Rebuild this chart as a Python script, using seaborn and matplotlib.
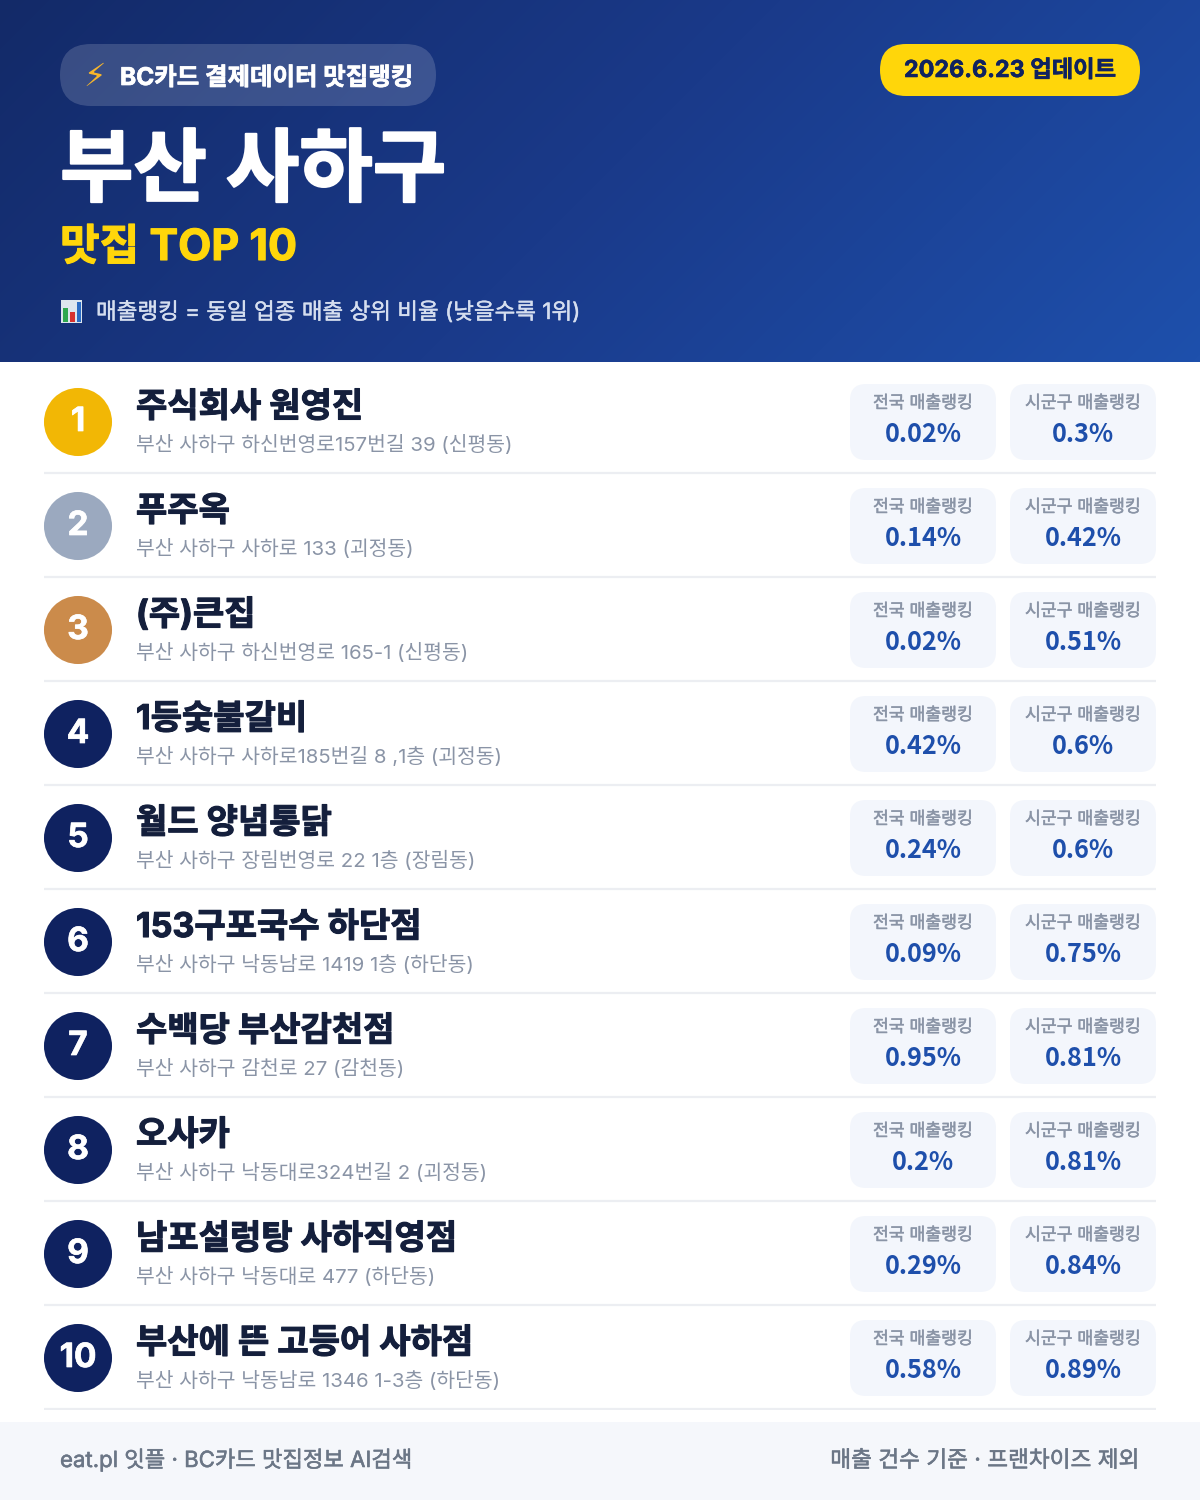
import numpy as np
import pandas as pd
import matplotlib.pyplot as plt
import matplotlib.patheffects as pe
from matplotlib.colors import LinearSegmentedColormap
from matplotlib.patches import FancyBboxPatch, Rectangle
import seaborn as sns

sns.set_theme(style='white')
plt.rcParams['font.family'] = ['Inter', 'Noto Sans CJK KR', 'DejaVu Sans']

# Chart data
ranks = [1, 2, 3, 4, 5, 6, 7, 8, 9, 10]
names = ['주식회사 원영진', '푸주옥', '(주)큰집', '1등숯불갈비', '월드 양념통닭',
         '153구포국수 하단점', '수백당 부산감천점', '오사카', '남포설렁탕 사하직영점',
         '부산에 뜬 고등어 사하점']
addresses = ['부산 사하구 하신번영로157번길 39 (신평동)', '부산 사하구 사하로 133 (괴정동)',
             '부산 사하구 하신번영로 165-1 (신평동)', '부산 사하구 사하로185번길 8 ,1층 (괴정동)',
             '부산 사하구 장림번영로 22 1층 (장림동)', '부산 사하구 낙동남로 1419 1층 (하단동)',
             '부산 사하구 감천로 27 (감천동)', '부산 사하구 낙동대로324번길 2 (괴정동)',
             '부산 사하구 낙동대로 477 (하단동)', '부산 사하구 낙동남로 1346 1-3층 (하단동)']
national_rank = [0.02, 0.14, 0.02, 0.42, 0.24, 0.09, 0.95, 0.2, 0.29, 0.58]
district_rank = [0.3, 0.42, 0.51, 0.6, 0.6, 0.75, 0.81, 0.81, 0.84, 0.89]
card_labels = ['전국 매출랭킹', '시군구 매출랭킹']

NAVY = '#0F2260'
badge_colors = ['#F2B705', '#9BA9BF', '#CB8B4B'] + [NAVY] * 7
PX = 1 / 104  # one pixel in rank units


def heavy(width, color):
    # only regular/bold files exist, a thin stroke gets the heavier weights
    return [pe.withStroke(linewidth=width, foreground=color)]


df = pd.DataFrame({'rank': ranks, 'name': names, 'address': addresses,
                   'national': national_rank, 'district': district_rank})
df['badge_x'] = 78

fig = plt.figure(figsize=(12, 15), dpi=100, facecolor='white')

# Page layer, in pixels
page = fig.add_axes([0, 0, 1, 1])
page.axis('off')

xx, yy = np.meshgrid(np.arange(1200), np.arange(362))
grad = LinearSegmentedColormap.from_list('hdr', ['#132A68', '#1A3A8A', '#1E50AC'])
page.imshow((xx + yy) / (1200 + 362), cmap=grad, extent=(0, 1200, 362, 0), aspect='auto', zorder=0)
page.set_xlim(0, 1200)
page.set_ylim(1500, 0)


def pill(ax, x, y, w, h, r, **kw):
    ax.add_patch(FancyBboxPatch((x, y), w, h, boxstyle=f'round,pad=0,rounding_size={r}', linewidth=0, **kw))


pill(page, 60, 44, 376, 62, 31, facecolor='white', alpha=0.16, zorder=1)
pill(page, 880, 44, 260, 52, 26, facecolor='#FFD60A', zorder=1)
page.text(95, 86, '⚡', fontsize=23, color='#F8B62B', ha='center', family='DejaVu Sans', zorder=2)
page.text(120, 85, 'BC카드 결제데이터 맛집랭킹', fontsize=17.6, fontweight='bold', color='white', zorder=2,
          path_effects=heavy(0.5, 'white'))
page.text(1010, 77, '2026.6.23 업데이트', fontsize=16.8, fontweight='bold', color=NAVY, ha='center', zorder=2,
          path_effects=heavy(0.4, NAVY))
page.text(60, 195, '부산 사하구', fontsize=57.5, fontweight='bold', color='white', zorder=2,
          path_effects=heavy(1.5, 'white'))
page.text(60, 260, '맛집 TOP 10', fontsize=31, fontweight='bold', color='#FFD60A', zorder=2,
          path_effects=heavy(0.8, '#FFD60A'))

# small chart icon next to the note
page.add_patch(Rectangle((61, 300), 21, 23, facecolor='#DDE6EE', linewidth=0, zorder=2))
page.add_patch(Rectangle((63, 308), 5, 14, facecolor='#2FA84F', linewidth=0, zorder=3))
page.add_patch(Rectangle((70, 312), 5, 10, facecolor='#D8322F', linewidth=0, zorder=3))
page.add_patch(Rectangle((77, 302), 4, 20, facecolor='#2B6CC4', linewidth=0, zorder=3))
page.text(96, 319, '매출랭킹 = 동일 업종 매출 상위 비율 (낮을수록 1위)', fontsize=16.2,
          color='#D5DEEF', zorder=2, path_effects=heavy(0.3, '#D5DEEF'))

# Footer
page.add_patch(Rectangle((0, 1422), 1200, 78, facecolor='#F5F7FB', linewidth=0, zorder=1))
page.text(60, 1467, 'eat.pl 잇플 · BC카드 맛집정보 AI검색', fontsize=16, color='#6B7686', zorder=2,
          path_effects=heavy(0.4, '#6B7686'))
page.text(1140, 1467, '매출 건수 기준 · 프랜차이즈 제외', fontsize=16.3, color='#6B7686',
          ha='right', zorder=2, path_effects=heavy(0.4, '#6B7686'))

# Rows layer, y axis is the rank itself
rows = fig.add_axes([0, 90 / 1500, 1, 1040 / 1500], facecolor='none')
sns.scatterplot(data=df, x='badge_x', y='rank', hue='rank', palette=badge_colors, s=2400, linewidth=0,
                legend=False, clip_on=False, ax=rows, zorder=3)
rows.set_xlim(0, 1200)
rows.set_ylim(10.5, 0.5)
rows.axis('off')

for row in df.itertuples():
    r = row.rank
    rows.text(78, r + 9 * PX, str(r), fontsize=24, fontweight='bold', color='white', ha='center', zorder=4,
              path_effects=heavy(0.5, 'white'))
    rows.text(136, r - 5 * PX, row.name, fontsize=24.5, fontweight='bold', color='#141F3C',
              path_effects=heavy(0.8, '#141F3C'))
    rows.text(136, r + 29 * PX, row.address, fontsize=14.7, color='#8A94A6')
    rows.plot([44, 1156], [r + 51 * PX] * 2, color='#ECEEF2', linewidth=1.6, solid_capstyle='butt')
    for x0, label, value in zip([850, 1010], card_labels, [row.national, row.district]):
        rows.add_patch(FancyBboxPatch((x0, r - 38 * PX), 146, 76 * PX, boxstyle='round,pad=0,rounding_size=16',
                                      mutation_aspect=PX, facecolor='#F3F6FC', linewidth=0))
        rows.text(x0 + 73, r - 14 * PX, label, fontsize=12.4, color='#8A94A6', ha='center',
                  path_effects=heavy(0.35, '#8A94A6'))
        rows.text(x0 + 73, r + 20 * PX, f'{value:g}%', fontsize=18.2, fontweight='bold', color='#1E4FAB', ha='center',
                  family=['Noto Sans CJK KR', 'DejaVu Sans'])

fig.savefig('out.png', dpi=100)
print('Saved out.png')
